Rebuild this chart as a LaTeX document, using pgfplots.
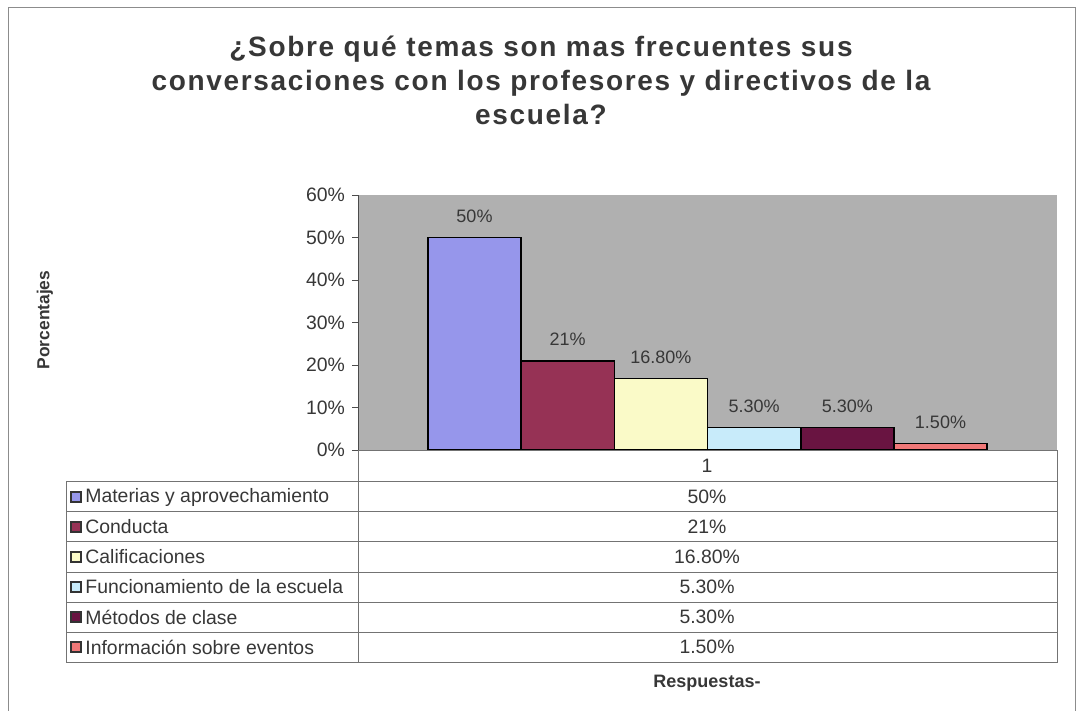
\documentclass[border=0pt]{standalone}
\usepackage{pgfplots}
\pgfplotsset{compat=1.18}
\usepackage{fontspec}
\setmainfont{Liberation Sans}
\newfontfamily\titlefont[LetterSpace=6]{Liberation Sans}

\definecolor{plotbg}{RGB}{176,176,176}
\definecolor{cMat}{RGB}{150,150,235}
\definecolor{cCon}{RGB}{150,50,85}
\definecolor{cCal}{RGB}{250,250,200}
\definecolor{cFun}{RGB}{200,235,250}
\definecolor{cMet}{RGB}{105,20,65}
\definecolor{cInf}{RGB}{240,120,120}
\definecolor{txt}{RGB}{55,55,55}

\newcommand{\tabfont}{\fontsize{9.7}{11}\selectfont}

\begin{document}
\begin{tikzpicture}
% 1 px of the reference = 0.5pt, y downwards
\begin{scope}[x=0.5pt,y=-0.5pt]
  \path[use as bounding box] (0,0) rectangle (1083,711);
  \draw[black!45] (8,711) -- (8,7) -- (1075,7) -- (1075,711);
  \node[anchor=base, font=\titlefont\bfseries\fontsize{14}{17}\selectfont, text=txt] at (541,57) {¿Sobre qué temas son mas frecuentes sus};
  \node[anchor=base, font=\titlefont\bfseries\fontsize{14}{17}\selectfont, text=txt] at (541,91) {conversaciones con los profesores y directivos de la};
  \node[anchor=base, font=\titlefont\bfseries\fontsize{14}{17}\selectfont, text=txt] at (541,125) {escuela?};
  \node[rotate=90, font=\bfseries\fontsize{8.7}{10}\selectfont, text=txt] at (45,320) {Porcentajes};
  \node[font=\bfseries\fontsize{9}{11}\selectfont, text=txt] at (707,683) {Respuestas-};
\end{scope}

\begin{axis}[
    at={(179pt,-225pt)}, anchor=south west,
    scale only axis,
    width=349.5pt, height=127.5pt,
    ybar=0pt,
    bar width=0.133333,
    xmin=0.5, xmax=1.5,
    ymin=0, ymax=60,
    xtick=\empty,
    ytick={0,10,...,60},
    yticklabels={0\%,10\%,20\%,30\%,40\%,50\%,60\%},
    axis x line=none,
    axis y line=left,
    axis line style={-, draw=black!70},
    tick align=outside,
    major tick length=3pt,
    tick style={draw=black!70},
    yticklabel style={font=\fontsize{9.7}{11}\selectfont, text=txt},
    axis background/.style={fill=plotbg},
    point meta=explicit symbolic,
    nodes near coords={\pgfplotspointmeta},
    every node near coord/.append style={font=\fontsize{9}{11}\selectfont, text=txt, anchor=south, inner sep=0pt, yshift=7pt},
    every axis plot/.append style={draw=black, line width=0.8pt},
    clip=false,
]
\addplot[fill=cMat] coordinates {(1,50) [50\%]};
\addplot[fill=cCon] coordinates {(1,21) [21\%]};
\addplot[fill=cCal] coordinates {(1,16.8) [16.80\%]};
\addplot[fill=cFun] coordinates {(1,5.3) [5.30\%]};
\addplot[fill=cMet] coordinates {(1,5.3) [5.30\%]};
\addplot[fill=cInf] coordinates {(1,1.5) [1.50\%]};
\end{axis}

\begin{scope}[x=0.5pt,y=-0.5pt, tabline/.style={draw=black!55, line width=0.5pt}]
  \draw[tabline] (358,451) -- (1057,451) -- (1057,662) -- (66,662) -- (66,482) -- (1057,482);
  \foreach \y in {512,542,572,602,632} \draw[tabline] (66,\y) -- (1057,\y);
  \draw[tabline] (358,451) -- (358,662);
  \node[font=\tabfont, text=txt] at (707,466) {1};
  \foreach \lab/\val/\col [count=\i] in {
      Materias y aprovechamiento/50\%/cMat,
      Conducta/21\%/cCon,
      Calificaciones/16.80\%/cCal,
      Funcionamiento de la escuela/5.30\%/cFun,
      Métodos de clase/5.30\%/cMet,
      Información sobre eventos/1.50\%/cInf} {
    \pgfmathsetmacro{\yc}{497+30*(\i-1)}
    \draw[fill=\col, draw=black!80, line width=0.6pt] (71,\yc-5) rectangle (81,\yc+5);
    \node[anchor=west, font=\tabfont, text=txt, inner sep=0pt] at (85,\yc) {\lab};
    \node[font=\tabfont, text=txt] at (707,\yc) {\val};
  }
\end{scope}
\end{tikzpicture}
\end{document}
